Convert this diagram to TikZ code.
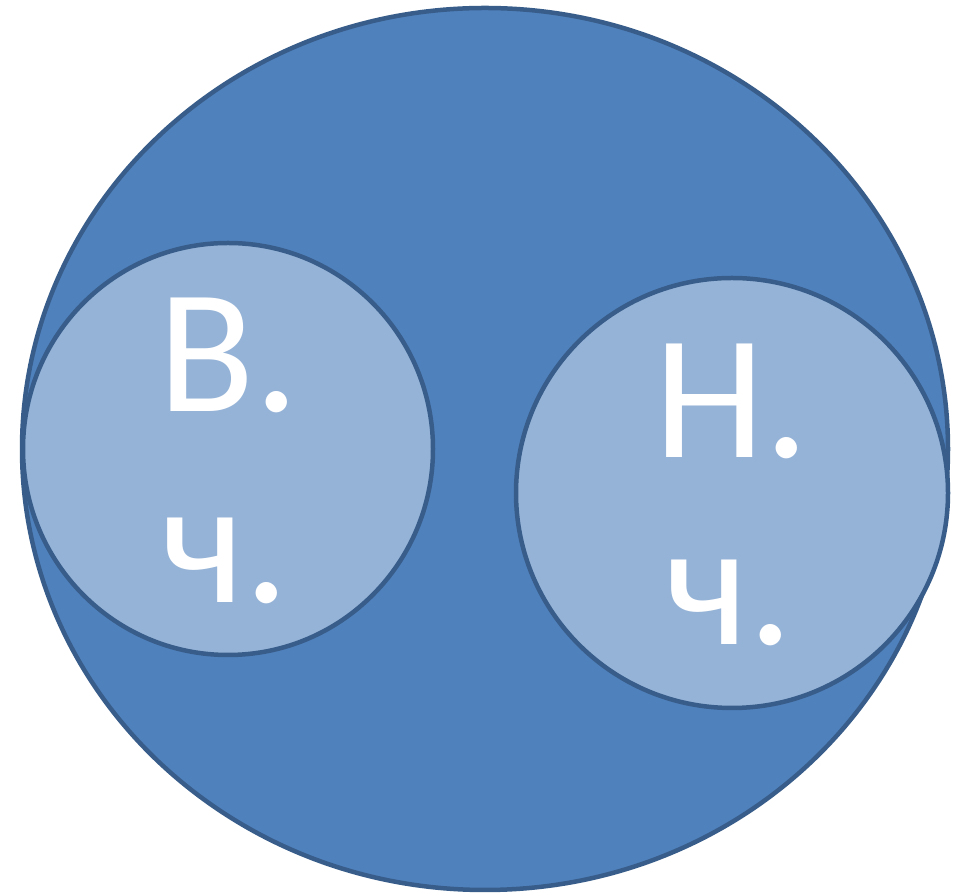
\documentclass[tikz,border=0pt]{standalone}
\usepackage{fontspec}
\setmainfont{Carlito}
\usetikzlibrary{shapes.geometric}
\definecolor{outerfill}{HTML}{4F81BD}
\definecolor{ringline}{HTML}{385D8A}
\definecolor{innerfill}{HTML}{95B3D7}
\tikzset{
  part/.style={ellipse, draw=ringline, line width=4.5pt, inner sep=0pt},
  letter/.style={anchor=base, text=white, font=\fontsize{177}{190}\selectfont}
}
\begin{document}
\begin{tikzpicture}[x=1pt, y=1pt]
        % Rahmen
        \useasboundingbox (0,0) rectangle (958,896);

        % Grosser Kreis
        \node[part, fill=outerfill, minimum width=926pt, minimum height=882pt] (whole) at (485,447) {};

        % Zwei innere Kreise
        \node[part, fill=innerfill, minimum width=410pt, minimum height=412pt] (upper) at (228,447) {};
        \node[part, fill=innerfill, minimum width=432pt, minimum height=430pt] (lower) at (732,403) {};

        % Beschriftung
        \node[letter] (upperA) at (229,484) {В.};
        \node[letter] (upperB) at (225,293) {ч.};
        \node[letter] (lowerA) at (732,438) {Н.};
        \node[letter] (lowerB) at (729,251) {ч.};
\end{tikzpicture}
\end{document}
